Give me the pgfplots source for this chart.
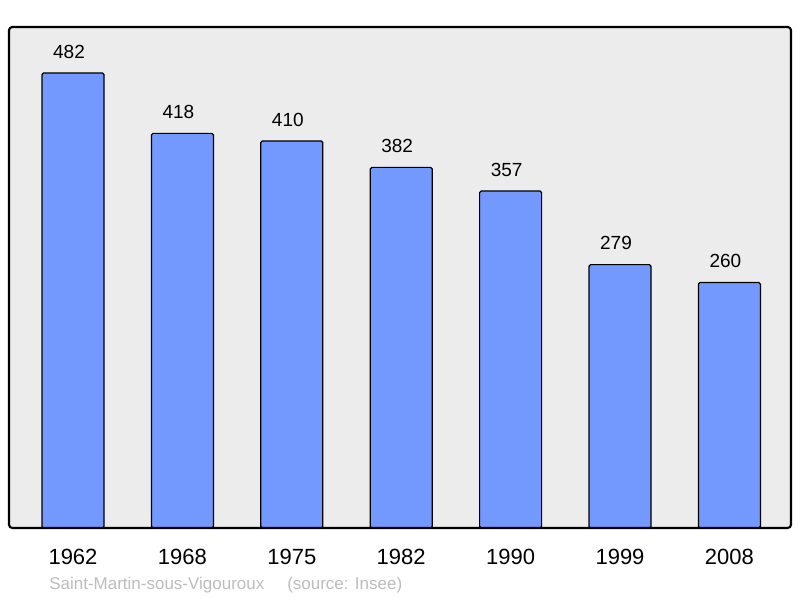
\documentclass[border=0pt]{standalone}
\usepackage{pgfplots}
\pgfplotsset{compat=1.18}
\usepackage{fontspec}
\setmainfont{Liberation Sans}
\definecolor{barblue}{RGB}{115,153,255}
\definecolor{bggray}{RGB}{236,236,236}
\definecolor{footgray}{RGB}{188,188,188}
\begin{document}
\begin{tikzpicture}[x=0.75pt,y=0.75pt]
\path[use as bounding box] (-9,-70) rectangle (791,528);
\begin{axis}[
  at={(0,0)}, anchor=south west,
  scale only axis,
  width=586.5pt, height=375.75pt,
  xmin=-0.585, xmax=6.563,
  ymin=0, ymax=530.7,
  ybar, bar width=46.5pt,
  axis line style={draw=none},
  axis background/.style={fill=bggray},
  xtick=data,
  xticklabels={1962,1968,1975,1982,1990,1999,2008},
  ytick=\empty,
  major tick length=0pt,
  /pgf/number format/assume math mode=true,
  xticklabel style={font=\fontsize{16.5pt}{18pt}\selectfont, anchor=base, yshift=-27.75pt},
  nodes near coords,
  every node near coord/.append style={font=\fontsize{14.25pt}{16pt}\selectfont, anchor=base, yshift=11pt, xshift=-3pt, black},
  clip=false,
  after end axis/.code={\draw[black, line width=1.6pt, rounded corners=2.5pt] (rel axis cs:0,0) rectangle (rel axis cs:1,1);},
]
\addplot[fill=barblue, draw=black, line width=0.9pt, rounded corners=1.2pt] coordinates {
(0,482) (1,418) (2,410) (3,382) (4,357) (5,279) (6,260)
};
\end{axis}
\node[anchor=base west, inner sep=0pt, text=footgray, font=\fontsize{12.75pt}{14pt}\selectfont] at (40,-62) {Saint-Martin-sous-Vigouroux};
\node[anchor=base west, inner sep=0pt, text=footgray, font=\fontsize{12.75pt}{14pt}\selectfont] at (278,-62) {(source: Insee)};
\end{tikzpicture}
\end{document}
